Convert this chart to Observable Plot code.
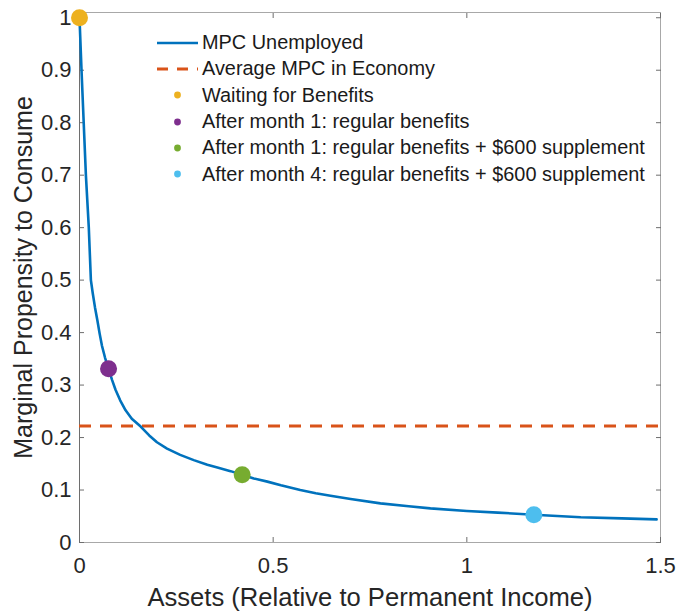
<!DOCTYPE html>
<html>
<head>
<meta charset="utf-8">
<script src="https://cdn.jsdelivr.net/npm/d3@7"></script>
<script src="https://cdn.jsdelivr.net/npm/@observablehq/plot@0.6"></script>
<style>
  html, body { margin: 0; padding: 0; background: #fff; }
  #wrap { position: relative; width: 695px; height: 612px; font-family: "Liberation Sans", Arial, Helvetica, sans-serif; }
  #legend { position: absolute; left: 157px; top: 29.5px; }
  .row { display: flex; align-items: center; height: 26.3px; font-size: 19.9px; color: #1a1a1a; white-space: nowrap; }
  .row svg { flex: none; margin-right: 4px; }
</style>
</head>
<body>
<div id="wrap"><div id="legend"></div></div>
<script>
// ---- data ----
const assets = [0, 0.0052, 0.0165, 0.024, 0.0294, 0.034, 0.040, 0.046, 0.052, 0.058, 0.066, 0.075, 0.084, 0.093, 0.105, 0.119, 0.135, 0.158, 0.18, 0.2, 0.226, 0.26, 0.295, 0.33, 0.356, 0.39, 0.42, 0.45, 0.485, 0.52, 0.57, 0.61, 0.648, 0.7, 0.777, 0.85, 0.906, 1.0, 1.08, 1.173, 1.294, 1.4, 1.49];
const mpc    = [1.0, 0.9, 0.7, 0.6, 0.5, 0.476, 0.448, 0.424, 0.398, 0.375, 0.352, 0.331, 0.310, 0.291, 0.271, 0.252, 0.236, 0.221, 0.204, 0.191, 0.179, 0.167, 0.157, 0.148, 0.143, 0.136, 0.129, 0.122, 0.116, 0.109, 0.1, 0.094, 0.089, 0.083, 0.0745, 0.069, 0.065, 0.06, 0.057, 0.053, 0.048, 0.046, 0.044];
const averageMPC = 0.222;

const pointNames  = ["Waiting for Benefits", "After month 1: regular benefits", "After month 1: regular benefits + $600 supplement", "After month 4: regular benefits + $600 supplement"];
const pointAssets = [0, 0.075, 0.42, 1.173];
const pointMPC    = [1.0, 0.331, 0.129, 0.053];
const pointColors = ["#EDB120", "#7E2F8E", "#77AC30", "#4DBEEE"];

const lineName = "MPC Unemployed";
const avgName = "Average MPC in Economy";
const lineColor = "#0072BD";
const avgColor = "#D95319";

const xTicks = [0, 0.5, 1, 1.5];
const yTicks = [0, 0.1, 0.2, 0.3, 0.4, 0.5, 0.6, 0.7, 0.8, 0.9, 1];
const xLabel = "Assets (Relative to Permanent Income)";
const yLabel = "Marginal Propensity to Consume";

// ---- build tables ----
const curve = assets.map((a, i) => ({a, m: mpc[i]}));
const points = pointNames.map((name, i) => ({name, a: pointAssets[i], m: pointMPC[i], color: pointColors[i]}));

const fmt = d => String(d);

const chart = Plot.plot({
  width: 695,
  height: 612,
  marginLeft: 79,
  marginRight: 35,
  marginTop: 12,
  marginBottom: 70,
  x: {domain: [0, 1.5]},
  y: {domain: [0, 1.01]},
  style: {fontFamily: '"Liberation Sans", Arial, Helvetica, sans-serif', color: "#262626", background: "#fff", overflow: "visible"},
  marks: [
    Plot.frame({stroke: "#a8a8a8"}),
    Plot.ruleX([0], {stroke: "#6e6e6e"}),
    // inward ticks on all four sides
    Plot.axisX(xTicks, {anchor: "bottom", tickSize: 5, dy: -5, text: null, label: null, stroke: "#6e6e6e"}),
    Plot.axisX(xTicks, {anchor: "top", tickSize: 5, dy: 5, text: null, label: null, stroke: "#6e6e6e"}),
    Plot.axisY(yTicks, {anchor: "left", tickSize: 5, dx: 5, text: null, label: null, stroke: "#6e6e6e"}),
    Plot.axisY(yTicks, {anchor: "right", tickSize: 5, dx: -5, text: null, label: null, stroke: "#6e6e6e"}),
    // tick labels
    Plot.axisX(xTicks, {anchor: "bottom", tickSize: 0, tickPadding: 15, tickFormat: fmt, fontSize: 22, label: null}),
    Plot.axisY(yTicks, {anchor: "left", tickSize: 0, tickPadding: 8, tickFormat: fmt, fontSize: 22, label: null}),
    // axis titles
    Plot.text([xLabel], {frameAnchor: "bottom", textAnchor: "middle", dy: 63, fontSize: 25.6, fill: "#262626"}),
    Plot.text([yLabel], {frameAnchor: "left", textAnchor: "middle", rotate: -90, dx: -56, fontSize: 25, fill: "#262626"}),
    // data
    Plot.ruleY([averageMPC], {stroke: avgColor, strokeWidth: 3, strokeDasharray: "12,9"}),
    Plot.line(curve, {x: "a", y: "m", stroke: lineColor, strokeWidth: 2.6, curve: "linear"}),
    Plot.dot(points, {x: "a", y: "m", r: 8.5, fill: "color", stroke: null})
  ]
});
document.getElementById("wrap").prepend(chart);

// ---- legend (HTML overlay) ----
const legend = document.getElementById("legend");
const sw = 41, sh = 14;
function addRow(svgInner, text) {
  const row = document.createElement("div");
  row.className = "row";
  row.innerHTML = `<svg width="${sw}" height="${sh}" viewBox="0 0 ${sw} ${sh}">${svgInner}</svg><span>${text}</span>`;
  legend.appendChild(row);
}
addRow(`<line x1="0" x2="${sw}" y1="${sh/2}" y2="${sh/2}" stroke="${lineColor}" stroke-width="2.6"/>`, lineName);
addRow(`<line x1="0" x2="${sw}" y1="${sh/2}" y2="${sh/2}" stroke="${avgColor}" stroke-width="3" stroke-dasharray="11,9"/>`, avgName);
points.forEach(p => addRow(`<circle cx="${sw/2}" cy="${sh/2}" r="3.4" fill="${p.color}"/>`, p.name));
</script>
</body>
</html>
